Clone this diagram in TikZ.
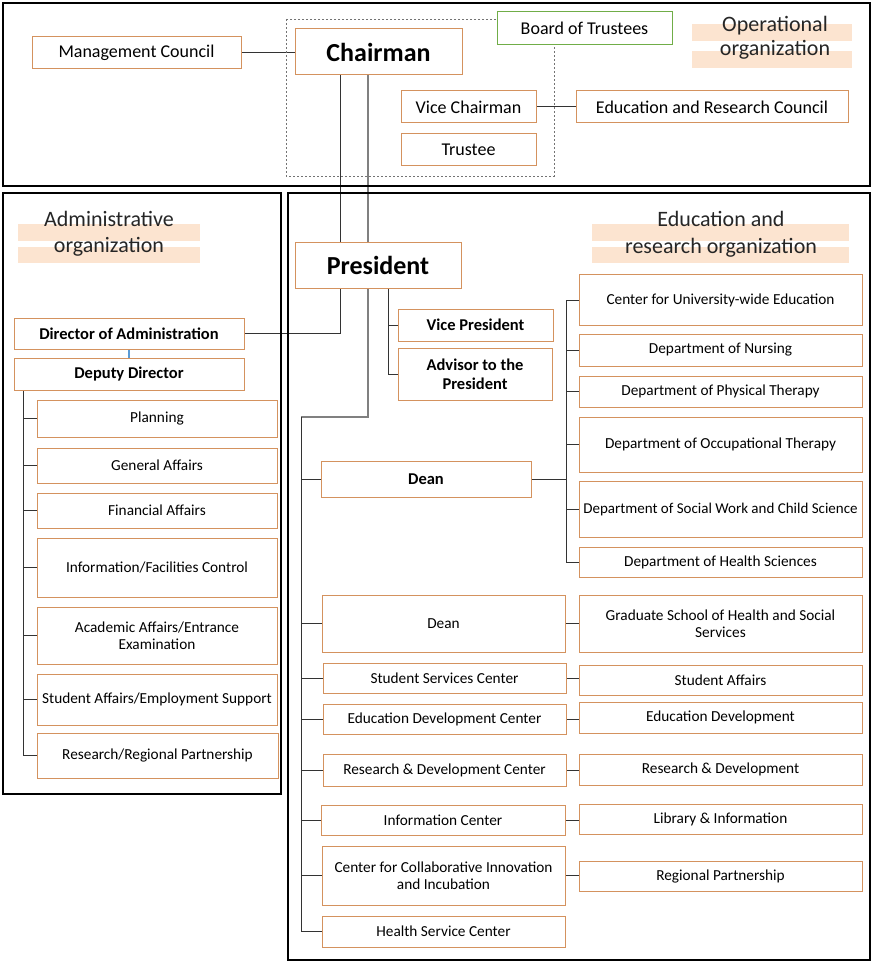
\documentclass[tikz,border=0pt]{standalone}
\usepackage{fontspec}
\setmainfont{Carlito}
\usetikzlibrary{backgrounds}
\definecolor{boxor}{RGB}{212,146,94}
\definecolor{boxgr}{RGB}{112,173,71}
\definecolor{peach}{RGB}{252,228,208}
\definecolor{lnblue}{RGB}{91,155,213}
\tikzset{
  box/.style={draw=boxor, line width=1pt, fill=white, inner sep=0pt, align=center, font=\fontsize{15.3}{17.5}\selectfont, text=black},
  bigtxt/.style={font=\fontsize{18}{21}\selectfont},
  boldtxt/.style={font=\bfseries\fontsize{16.5}{19}\selectfont},
  headtxt/.style={font=\bfseries\fontsize{26}{30}\selectfont},
  conn/.style={draw=black!80, line width=1pt},
  conngray/.style={draw=black!50, line width=1.3pt},
  frame/.style={draw=black, line width=1.2pt},
  lbl/.style={font=\fontsize{22}{26}\selectfont, text=black!85, inner sep=0pt, anchor=base},
  bar/.style={fill=peach, draw=none},
}
\begin{document}
\begin{tikzpicture}[x=1pt, y=-1pt]
\useasboundingbox (0,0) rectangle (876,965);
% frames
\draw[frame] (3,3) rectangle (870,186);
\draw[frame] (3,193) rectangle (281,794);
\draw[frame] (288,193) rectangle (870,960);
% section labels
\fill[bar] (692,24) rectangle (852,41);
\fill[bar] (692,51) rectangle (852,68);
\node[lbl] (op1) at (775,32) {Operational};
\node[lbl] (op2) at (775,56) {organization};
\fill[bar] (18,224) rectangle (200,241);
\fill[bar] (18,247) rectangle (200,263);
\node[lbl] (ad1) at (109,227) {Administrative};
\node[lbl] (ad2) at (109,253) {organization};
\fill[bar] (592,224) rectangle (849,241);
\fill[bar] (592,247) rectangle (849,263);
\node[lbl] (ed1) at (721,227) {Education and};
\node[lbl] (ed2) at (721,254) {research organization};
% board of trustees dashed area
\draw[draw=black!55, line width=0.8pt, dash pattern=on 2pt off 2pt] (286,19) rectangle (554,176);

% top nodes
\node[box, bigtxt, minimum width=209, minimum height=32] (mgmt) at (136.5,53) {Management Council};
\node[box, headtxt, minimum width=167, minimum height=46] (chair) at (378.5,52) {Chairman};
\node[box, bigtxt, draw=boxgr, minimum width=175, minimum height=33] (bot) at (584.5,28.5) {Board of Trustees};
\node[box, bigtxt, minimum width=135, minimum height=32] (vchair) at (468.5,107) {Vice Chairman};
\node[box, bigtxt, minimum width=135, minimum height=32] (trustee) at (468.5,150) {Trustee};
\node[box, bigtxt, minimum width=272, minimum height=32] (erc) at (712,107) {Education and Research Council};

% president and staff
\node[box, headtxt, minimum width=166, minimum height=45] (pres) at (378,265.5) {President};
\node[box, boldtxt, minimum width=155, minimum height=32] (vp) at (475.5,325) {Vice President};
\node[box, boldtxt, minimum width=154, minimum height=52] (adv) at (475,374) {Advisor to the\\President};

% administrative
\node[box, boldtxt, minimum width=230, minimum height=31] (dira) at (129,333.5) {Director of Administration};
\node[box, boldtxt, minimum width=230, minimum height=32] (depd) at (129,374) {Deputy Director};
\node[box, minimum width=240, minimum height=37] (plan) at (157,418.5) {Planning};
\node[box, minimum width=240, minimum height=35] (gen) at (157,465.5) {General Affairs};
\node[box, minimum width=240, minimum height=35] (fin) at (157,510.5) {Financial Affairs};
\node[box, minimum width=240, minimum height=59] (info) at (157,567.5) {Information/Facilities Control};
\node[box, minimum width=240, minimum height=57] (acad) at (157,635.5) {Academic Affairs/Entrance\\Examination};
\node[box, minimum width=240, minimum height=51] (stud) at (157,699.5) {Student Affairs/Employment Support};
\node[box, minimum width=241, minimum height=45] (resr) at (157.5,755.5) {Research/Regional Partnership};

% education and research
\node[box, boldtxt, minimum width=210, minimum height=36] (dean1) at (426,479) {Dean};
\node[box, minimum width=283, minimum height=50] (cue) at (720.5,300) {Center for University-wide Education};
\node[box, minimum width=283, minimum height=32] (nurs) at (720.5,350) {Department of Nursing};
\node[box, minimum width=283, minimum height=31] (pt) at (720.5,391.5) {Department of Physical Therapy};
\node[box, minimum width=283, minimum height=55] (ot) at (720.5,444.5) {Department of Occupational Therapy};
\node[box, minimum width=283, minimum height=56, font=\fontsize{15}{17.5}\selectfont] (sw) at (720.5,509) {Department of Social Work and Child Science};
\node[box, minimum width=283, minimum height=30] (hs) at (720.5,562) {Department of Health Sciences};

\node[box, minimum width=243, minimum height=57] (dean2) at (443.5,623.5) {Dean};
\node[box, minimum width=283, minimum height=57] (gs) at (720.5,623.5) {Graduate School of Health and Social\\Services};
\node[box, minimum width=243, minimum height=30] (ssc) at (444.5,678) {Student Services Center};
\node[box, minimum width=283, minimum height=30] (sa) at (720.5,680) {Student Affairs};
\node[box, minimum width=243, minimum height=30] (edc) at (444.5,719) {Education Development Center};
\node[box, minimum width=283, minimum height=31] (ed) at (720.5,717.5) {Education Development};
\node[box, minimum width=243, minimum height=32] (rdc) at (444.5,770) {Research \& Development Center};
\node[box, minimum width=283, minimum height=31] (rd) at (720.5,769.5) {Research \& Development};
\node[box, minimum width=244, minimum height=30] (ic) at (443,820) {Information Center};
\node[box, minimum width=283, minimum height=30] (li) at (720.5,819) {Library \& Information};
\node[box, minimum width=243, minimum height=59] (cci) at (443.5,875.5) {Center for Collaborative Innovation\\and Incubation};
\node[box, minimum width=283, minimum height=30] (rp) at (720.5,876) {Regional Partnership};
\node[box, minimum width=243, minimum height=31] (hsc) at (443.5,931.5) {Health Service Center};

\coordinate (espine) at (301,417);
\coordinate (rspine) at (566,479);

\begin{scope}[on background layer]
% top connectors
\draw[conn] (mgmt.east) -- (mgmt.east -| chair.west);
\draw[conn] (vchair.east) -- (erc.west);
% chairman down
\draw[conn] ([xshift=-38.5]chair.south) |- (dira.east);
\draw[conngray] ([xshift=-10.5]chair.south) -- ([xshift=-10]pres.north);
% president staff
\draw[conn] ([xshift=10]pres.south) |- (vp.west);
\draw[conn] ([xshift=10]pres.south) |- (adv.west);
% president to education spine
\draw[conngray] ([xshift=-10]pres.south) |- (espine);
% admin
\draw[draw=lnblue, line width=1.2pt] (dira.south) -- (depd.north);
\foreach \n in {plan,gen,fin,info,acad,stud,resr}
  \draw[conn] ([xshift=10]depd.south west) |- (\n.west);
% education spine
\foreach \n in {dean1,dean2,ssc,edc,rdc,ic,cci,hsc}
  \draw[conn] (espine) |- (\n.west);
% dean1 to departments
\draw[conn] (dean1.east) -- (rspine);
\foreach \n in {cue,nurs,pt,ot,sw,hs}
  \draw[conn] (rspine) |- (\n.west);
% centers to units
\draw[conn] (dean2.east) -- (dean2.east -| gs.west);
\draw[conn] (ssc.east) -- (ssc.east -| sa.west);
\draw[conn] (edc.east) -- (edc.east -| ed.west);
\draw[conn] (rdc.east) -- (rdc.east -| rd.west);
\draw[conn] (ic.east) -- (ic.east -| li.west);
\draw[conn] (cci.east) -- (cci.east -| rp.west);
\end{scope}
\end{tikzpicture}
\end{document}
